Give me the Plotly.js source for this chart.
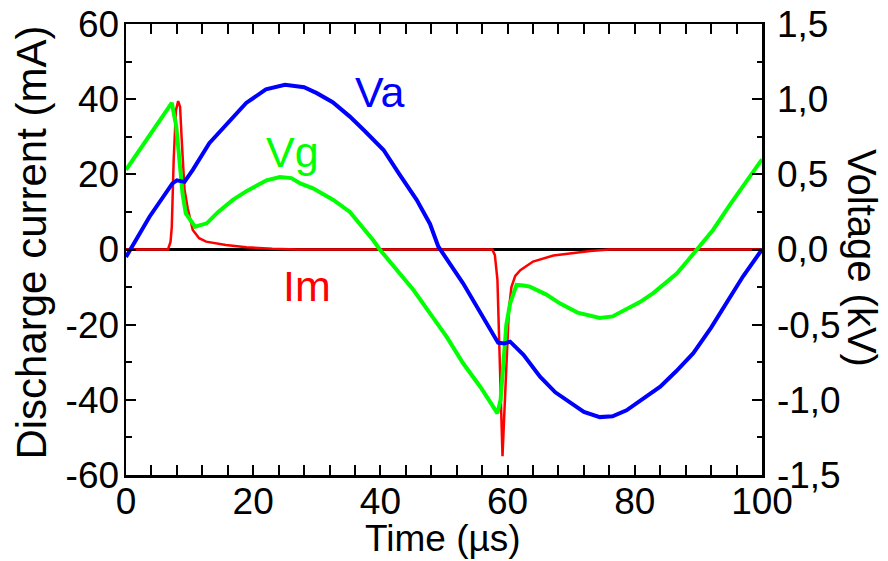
<!DOCTYPE html>
<html>
<head>
<meta charset="utf-8">
<script src="https://cdn.plot.ly/plotly-3.0.1.min.js"></script>
<style>html,body{margin:0;padding:0;background:#fff;}#chart{width:888px;height:561px;}</style>
</head>
<body>
<div id="chart"></div>
<script>
// Va: anode voltage (kV)
var vaTime = [0, 3.7, 7.3, 8.0, 9.2, 10.5, 13.1, 16.4, 18.9, 22, 25, 28, 30, 32.5, 35.2, 37.5, 40.5, 43, 45.7, 47.8, 49.1, 53, 55.7, 58.5, 59.5, 60.4, 62.5, 65.1, 67.5, 69.8, 72, 74.5, 76.5, 78.7, 81, 84, 86.5, 89.2, 92, 94.4, 97, 100];
var vaVolt = [-0.05, 0.218, 0.44, 0.46, 0.45, 0.53, 0.707, 0.86, 0.975, 1.065, 1.095, 1.08, 1.04, 0.98, 0.884, 0.79, 0.662, 0.5, 0.33, 0.17, 0.02, -0.225, -0.414, -0.62, -0.625, -0.613, -0.7, -0.846, -0.95, -1.02, -1.08, -1.115, -1.11, -1.07, -1.0, -0.913, -0.81, -0.69, -0.52, -0.358, -0.18, 0.0];

// Vg: gap voltage (kV)
var vgTime = [0, 3.5, 7.2, 7.9, 8.4, 8.9, 9.4, 10.2, 10.85, 12.7, 14.5, 16.8, 19, 22.1, 24.2, 26, 27.4, 29.4, 32.6, 35.2, 37, 38.9, 39.9, 42.6, 45.2, 47.8, 50.4, 53.0, 55.7, 57.5, 58.4, 58.9, 59.3, 59.8, 60.4, 61.4, 62.5, 63.5, 66.1, 68.2, 71, 74.5, 76.5, 78.7, 80.8, 82.9, 84.8, 86.6, 88.2, 89.7, 92.3, 95, 97.5, 100];
var vgVolt = [0.53, 0.75, 0.975, 0.82, 0.6, 0.37, 0.24, 0.185, 0.152, 0.174, 0.25, 0.33, 0.39, 0.46, 0.482, 0.475, 0.44, 0.407, 0.33, 0.25, 0.16, 0.06, 0.0, -0.136, -0.27, -0.425, -0.58, -0.757, -0.913, -1.03, -1.09, -1.0, -0.757, -0.5, -0.358, -0.236, -0.24, -0.247, -0.30, -0.358, -0.42, -0.455, -0.445, -0.40, -0.35, -0.29, -0.22, -0.16, -0.08, 0.0, 0.13, 0.3, 0.45, 0.6];

// Im: discharge current (mA)
var imTime = [0, 6.6, 7.0, 7.2, 7.5, 7.85, 8.2, 8.5, 8.8, 9.2, 9.7, 10.5, 11.5, 12.6, 15.7, 18.9, 23, 27, 57.6, 58.0, 58.4, 58.7, 59.0, 59.2, 59.45, 59.8, 60.2, 60.6, 61.2, 62, 64, 67.2, 70, 73, 76, 100];
var imCurr = [0, 0, 2, 6, 24, 37, 39.5, 38, 28, 16, 11, 5.2, 3, 2.1, 1.2, 0.6, 0.2, 0, 0, -1.5, -8, -25, -48, -55, -45, -30, -16, -10, -7, -5.5, -3.2, -1.6, -1.0, -0.4, 0, 0];

// Axis ticks
var xTicks = [0, 20, 40, 60, 80, 100];
var xTickText = ['0', '20', '40', '60', '80', '100'];
var yTicks = [-60, -40, -20, 0, 20, 40, 60];
var yTickText = ['-60', '-40', '-20', '0', '20', '40', '60'];
var y2Ticks = [-1.5, -1.0, -0.5, 0, 0.5, 1.0, 1.5];
var y2TickText = ['-1,5', '-1,0', '-0,5', '0,0', '0,5', '1,0', '1,5'];

var FONT = 'Liberation Sans, Arial, Helvetica, sans-serif';

var traces = [
  {x: imTime, y: imCurr, type: 'scatter', mode: 'lines', yaxis: 'y', line: {color: '#ff0000', width: 2.5}, name: 'Im', hoverinfo: 'skip'},
  {x: vgTime, y: vgVolt, type: 'scatter', mode: 'lines', yaxis: 'y2', line: {color: '#00ff00', width: 4}, name: 'Vg', hoverinfo: 'skip'},
  {x: vaTime, y: vaVolt, type: 'scatter', mode: 'lines', yaxis: 'y2', line: {color: '#0000ff', width: 4}, name: 'Va', hoverinfo: 'skip'}
];

var axCommon = {
  showgrid: false, showline: true, linecolor: '#000', linewidth: 2.5,
  ticks: 'inside', ticklen: 10, tickwidth: 2, tickcolor: '#000',
  tickfont: {family: FONT, size: 37, color: '#000'}
};

var layout = {
  width: 888, height: 561,
  margin: {l: 126, r: 126, t: 24, b: 86, pad: 0},
  paper_bgcolor: '#fff', plot_bgcolor: '#fff',
  showlegend: false,
  font: {family: FONT, color: '#000'},
  xaxis: Object.assign({}, axCommon, {
    range: [0, 100], tickmode: 'array', tickvals: xTicks, ticktext: xTickText,
    mirror: 'allticks', zeroline: false,
    minor: {dtick: 4, ticks: 'inside', ticklen: 5, tickwidth: 2, tickcolor: '#000'},
    ticklabelstandoff: -8
  }),
  yaxis: Object.assign({}, axCommon, {
    range: [-60, 60], tickmode: 'array', tickvals: yTicks, ticktext: yTickText,
    zeroline: true, zerolinecolor: '#000', zerolinewidth: 2.5,
    minor: {dtick: 10, ticks: 'inside', ticklen: 6, tickwidth: 2, tickcolor: '#000'},
    ticklabelstandoff: -3
  }),
  yaxis2: Object.assign({}, axCommon, {
    range: [-1.5, 1.5], overlaying: 'y', side: 'right', tickmode: 'array',
    tickvals: y2Ticks, ticktext: y2TickText, zeroline: false,
    minor: {dtick: 0.25, ticks: 'inside', ticklen: 5, tickwidth: 2, tickcolor: '#000'},
    ticklabelstandoff: 5
  }),
  annotations: [
    {xref: 'paper', yref: 'paper', x: 0.4985, y: -0.14, text: 'Time (µs)', showarrow: false, xanchor: 'center', yanchor: 'middle', font: {family: FONT, size: 37, color: '#000'}},
    {xref: 'paper', yref: 'paper', x: -0.148, y: 0.515, text: 'Discharge current (mA)', textangle: -90, showarrow: false, xanchor: 'center', yanchor: 'middle', font: {family: FONT, size: 42, color: '#000'}},
    {xref: 'paper', yref: 'paper', x: 1.158, y: 0.48, text: 'Voltage (kV)', textangle: 90, showarrow: false, xanchor: 'center', yanchor: 'middle', font: {family: FONT, size: 40, color: '#000'}},
    {xref: 'x', yref: 'y', x: 39.9, y: 41.8, text: 'Va', showarrow: false, xanchor: 'center', yanchor: 'middle', font: {family: FONT, size: 43, color: '#0000ff'}},
    {xref: 'x', yref: 'y', x: 26.15, y: 25.9, text: 'Vg', showarrow: false, xanchor: 'center', yanchor: 'middle', font: {family: FONT, size: 43, color: '#00ff00'}},
    {xref: 'x', yref: 'y', x: 28.4, y: -9.6, text: 'Im', showarrow: false, xanchor: 'center', yanchor: 'middle', font: {family: FONT, size: 43, color: '#ff0000'}}
  ]
};

Plotly.newPlot('chart', traces, layout, {staticPlot: true, displayModeBar: false});
</script>
</body>
</html>
